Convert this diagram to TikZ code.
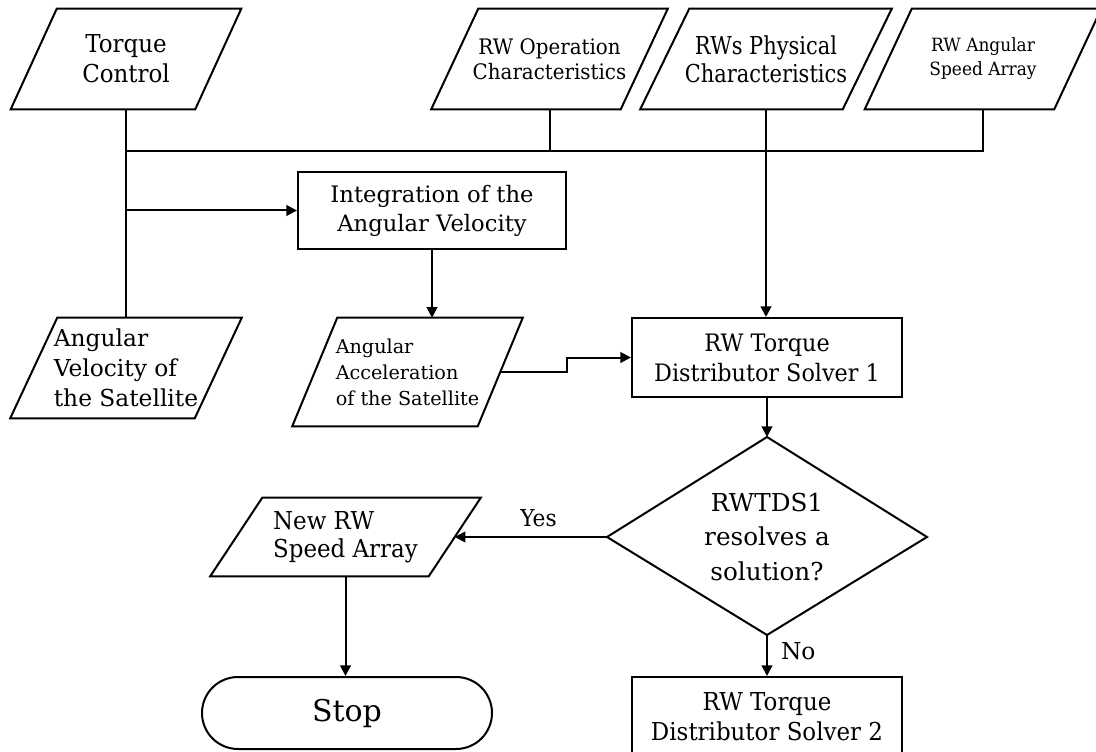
\documentclass[tikz,border=0pt]{standalone}
\usepackage{fontspec}
\setmainfont{DejaVu Serif}
\newfontfamily\fmid[FakeStretch=0.93]{DejaVu Serif}
\newfontfamily\fnarrow[FakeStretch=0.85]{DejaVu Serif}
\usetikzlibrary{arrows.meta,calc}
\newcommand\fsz[2]{\fontsize{#1}{#2}\selectfont}

\begin{document}
\begin{tikzpicture}[x=0.75pt, y=-0.75pt,
  wire/.style={draw=black, line width=1.5pt},
  arrowwire/.style={draw=black, line width=1.5pt, -{Triangle[length=8pt,width=8pt]}},
  box/.style={draw, line width=1.5pt, inner sep=0pt, align=center},
  io/.style={inner sep=0pt, align=center},
  lbl/.style={inner sep=0pt}
]
\useasboundingbox (0,0) rectangle (1096,752);

% ---- input parallelograms (text nodes sized to the mid-line of each shape)
\node[io, minimum width=138pt, minimum height=75pt,
      font=\fmid\fsz{18.5pt}{22.5pt}] (tc) at (126,59) {Torque\\Control};
\node[io, minimum width=141.75pt, minimum height=75pt,
      font=\fmid\fsz{16pt}{18.75pt}] (rwop) at (549.5,59) {RW Operation\\Characteristics};
\node[io, minimum width=151.5pt, minimum height=75pt,
      font=\fnarrow\fsz{18.5pt}{21pt}] (rwphys) at (766,59) {RWs Physical\\Characteristics};
\node[io, minimum width=141.75pt, minimum height=75pt,
      font=\fmid\fsz{13.7pt}{18pt}] (rwang) at (983,59) {RW Angular\\Speed Array};
\node[io, align=left, minimum width=138pt, minimum height=75pt,
      font=\fsz{17.5pt}{22.5pt}] (avel) at (126,368) {Angular\\Velocity of\\the Satellite};
\node[io, align=left, minimum width=138.75pt, minimum height=81pt,
      font=\fsz{14.4pt}{19.5pt}] (acc) at (407.5,372) {Angular\\Acceleration\\of the Satellite};
\node[io, align=left, minimum width=163.5pt, minimum height=58.5pt,
      font=\fmid\fsz{18.5pt}{21pt}] (newrw) at (345.5,537) {New RW\\Speed Array};

% parallelogram outlines: top edge shifted right, bottom edge shifted left
\foreach \n/\s in {tc/46, rwop/47, rwphys/49, rwang/47, avel/47, acc/45, newrw/52}
  \draw[wire] ($(\n.north west)+(\s/2,0)$) -- ($(\n.north east)+(\s/2,0)$)
              -- ($(\n.south east)-(\s/2,0)$) -- ($(\n.south west)-(\s/2,0)$) -- cycle;

% ---- process boxes
\node[box, minimum width=201pt, minimum height=57.75pt,
      font=\fsz{17pt}{21.75pt}] (integ) at (432,210.5) {Integration of the\\Angular Velocity};
\node[box, minimum width=202.5pt, minimum height=59.25pt,
      font=\fmid\fsz{18pt}{22.5pt}] (solver1) at (767,357.5) {RW Torque\\Distributor Solver 1};
\node[box, minimum width=202.5pt, minimum height=59.25pt,
      font=\fmid\fsz{18.5pt}{22.5pt}] (solver2) at (767,716.5) {RW Torque\\Distributor Solver 2};
\node[box, minimum width=217.5pt, minimum height=54pt, rounded corners=27pt,
      font=\fsz{22.5pt}{27pt}] (stop) at (347,713) {Stop};

% ---- decision
\node[io, font=\fsz{18.5pt}{26pt}] (dia) at (767,537) {RWTDS1\\resolves a\\solution?};
\coordinate (dia-n) at ($(dia)+(0,-100)$);
\coordinate (dia-s) at ($(dia)+(0,98)$);
\coordinate (dia-w) at ($(dia)+(-160,0)$);
\coordinate (dia-e) at ($(dia)+(160,0)$);
\draw[wire] (dia-n) -- (dia-e) -- (dia-s) -- (dia-w) -- cycle;

% ---- connectors
\coordinate (bus) at (126,151);
\draw[wire] (tc.south) -- (avel.north);
\draw[wire] (rwang.south) |- (bus);
\draw[wire] (rwop.south) -- (rwop.south |- bus);
\draw[arrowwire] (rwphys.south) -- (rwphys.south |- solver1.north);
\draw[arrowwire] (tc.south |- integ.west) -- (integ.west);
\draw[arrowwire] (integ.south) -- (integ.south |- acc.north);
\draw[arrowwire] (acc.east) -- ++(67,0) |- (solver1.west);
\draw[arrowwire] (solver1.south) -- (dia-n);
\draw[arrowwire] (dia-w) -- (newrw.east)
  node[lbl, pos=0.45, above=7pt, font=\fmid\fsz{17.5pt}{21pt}] {Yes};
\draw[arrowwire] (dia-s) -- (solver2.north)
  node[lbl, pos=0.4, right=9.75pt, font=\fsz{17.5pt}{21pt}] {No};
\draw[arrowwire] (newrw.south) -- (newrw.south |- stop.north);
\end{tikzpicture}
\end{document}
